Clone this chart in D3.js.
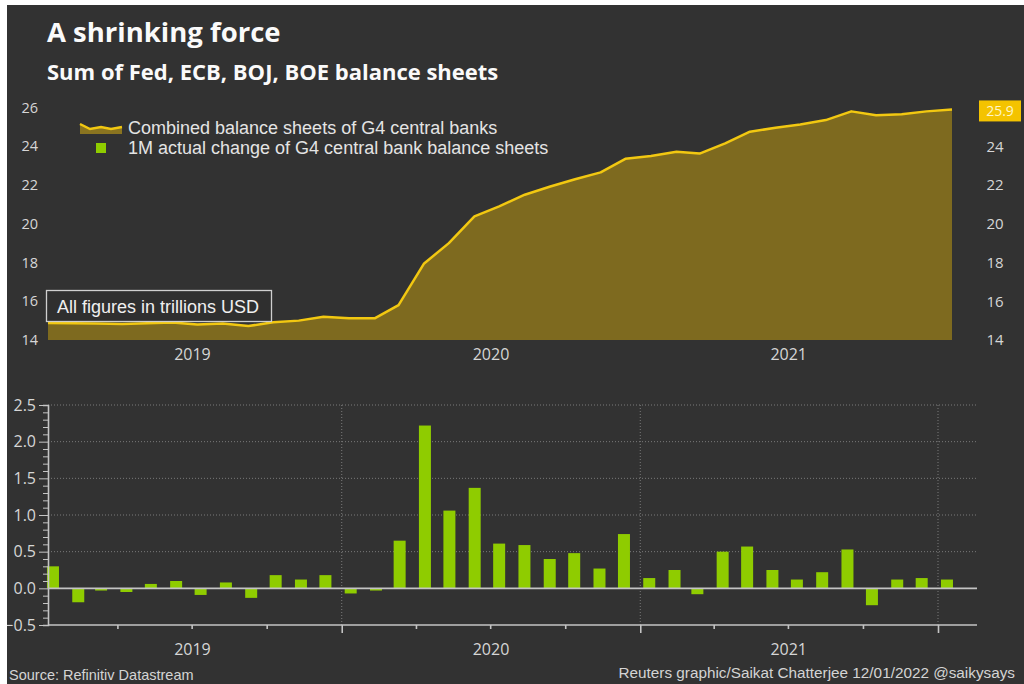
<!DOCTYPE html>
<html>
<head>
<meta charset="utf-8">
<script src="https://cdn.jsdelivr.net/npm/d3@7"></script>
<style>
  body { margin: 0; background: #fff; }
  svg { display: block; }
  .tick-label { fill: #d6d6d6; font-family: "Open Sans", sans-serif; }
  .note { fill: #e4e4e4; font-family: "Liberation Sans", Arial, sans-serif; }
</style>
</head>
<body>
<svg id="chart" width="1024" height="684"></svg>
<script>
// monthly observations, Jan 2019 .. Jan 2022
var months = d3.timeMonth.range(new Date(2019, 0, 1), new Date(2022, 1, 1));

// combined balance sheets of G4 central banks, trillions USD
var combined = [14.88, 14.87, 14.85, 14.82, 14.86, 14.9, 14.8, 14.85, 14.72, 14.92, 15.0, 15.2,
  15.12, 15.12, 15.8, 17.95, 19.0, 20.38, 20.9, 21.5, 21.92, 22.3, 22.65, 23.35,
  23.5, 23.72, 23.62, 24.15, 24.75, 24.95, 25.12, 25.35, 25.8, 25.6, 25.65, 25.8, 25.9];

// 1M actual change, trillions USD
var change = [0.3, -0.19, -0.03, -0.05, 0.06, 0.1, -0.09, 0.08, -0.13, 0.18, 0.12, 0.18,
  -0.07, -0.03, 0.65, 2.22, 1.06, 1.37, 0.61, 0.59, 0.4, 0.48, 0.27, 0.74,
  0.14, 0.25, -0.08, 0.5, 0.57, 0.25, 0.12, 0.22, 0.53, -0.23, 0.12, 0.14, 0.12];

var topTicks = [14, 16, 18, 20, 22, 24, 26];
var rightTicks = [14, 16, 18, 20, 22, 24];
var bottomTicks = [-0.5, 0, 0.5, 1.0, 1.5, 2.0, 2.5];
var years = [2019, 2020, 2021];
var lastLabel = "25.9";

var svg = d3.select("#chart");
svg.append("rect").attr("width", 1024).attr("height", 684).attr("fill", "#323232");

// ---------- top panel ----------
var xt = d3.scaleTime().domain([new Date(2019, 0, 1), new Date(2022, 0, 1)]).range([48, 952]);
var yt = d3.scaleLinear().domain([14, 26]).range([340, 107.5]);

// bottom panel scales (year labels of both panels sit on these)
var xb = d3.scaleTime().domain([new Date(2019, 0, 1), new Date(2022, 0, 1)]).range([44, 938]);
var yb = d3.scaleLinear().domain([-0.5, 2.5]).range([625, 405]);

var pts = months.map(function(m, i) { return { date: m, v: combined[i] }; });

var area = d3.area()
  .x(function(d) { return xt(d.date); })
  .y0(yt(14))
  .y1(function(d) { return yt(d.v); });

var line = d3.line()
  .x(function(d) { return xt(d.date); })
  .y(function(d) { return yt(d.v); });

svg.append("path").datum(pts).attr("d", area).attr("fill", "#7e6a1f");
svg.append("path").datum(pts).attr("d", line)
  .attr("fill", "none").attr("stroke", "#f2c811").attr("stroke-width", 2.5)
  .attr("stroke-linejoin", "round");

svg.selectAll(".ytl").data(topTicks).enter().append("text")
  .attr("class", "tick-label")
  .attr("x", 38).attr("y", function(d) { return yt(d); })
  .attr("dy", "0.35em").attr("text-anchor", "end")
  .style("font-size", "14.5px")
  .text(function(d) { return d; });

svg.selectAll(".ytr").data(rightTicks).enter().append("text")
  .attr("class", "tick-label")
  .attr("x", 995).attr("y", function(d) { return yt(d); })
  .attr("dy", "0.35em").attr("text-anchor", "middle")
  .style("font-size", "15px")
  .text(function(d) { return d; });

// last value tag
var lastV = combined[combined.length - 1];
svg.append("rect").attr("x", 979).attr("y", yt(lastV) - 9).attr("width", 42).attr("height", 21)
  .attr("fill", "#f4c300");
svg.append("text").attr("class", "tick-label")
  .attr("x", 1000).attr("y", yt(lastV) + 1.5).attr("dy", "0.35em").attr("text-anchor", "middle")
  .style("font-size", "14px").style("fill", "#fff6c8")
  .text(lastLabel);

svg.selectAll(".yrt").data(years).enter().append("text")
  .attr("class", "tick-label")
  .attr("x", function(d) { return xb(new Date(d, 6, 2)); })
  .attr("y", 360).attr("text-anchor", "middle")
  .style("font-size", "16px")
  .text(function(d) { return d; });

// units box
svg.append("rect").attr("x", 46.5).attr("y", 290.5).attr("width", 225).attr("height", 31)
  .attr("fill", "#2f2f2f").attr("stroke", "#cfcfcf").attr("stroke-width", 1.3);
svg.append("text").attr("class", "note").attr("x", 57).attr("y", 313)
  .style("font-size", "18px").style("fill", "#f0f0f0")
  .text("All figures in trillions USD");

// legend
var lg = svg.append("g");
lg.append("path")
  .attr("d", "M80,124 L90,129 L101,127 L111,129 L122,127 L122,134 L80,134 Z")
  .attr("fill", "#8a7420");
lg.append("path")
  .attr("d", "M80,124 L90,129 L101,127 L111,129 L122,127")
  .attr("fill", "none").attr("stroke", "#f2c811").attr("stroke-width", 2.5);
lg.append("rect").attr("x", 96).attr("y", 143).attr("width", 10).attr("height", 10).attr("fill", "#8fcc00");
lg.append("text").attr("class", "note").attr("x", 128).attr("y", 134)
  .style("font-size", "18px").text("Combined balance sheets of G4 central banks");
lg.append("text").attr("class", "note").attr("x", 128).attr("y", 154)
  .style("font-size", "18px").text("1M actual change of G4 central bank balance sheets");

// ---------- bottom panel ----------
var gridColor = "#7a7a7a";
svg.selectAll(".hg").data(bottomTicks.filter(function(d) { return d > 0; })).enter().append("line")
  .attr("x1", 48).attr("x2", 977)
  .attr("y1", function(d) { return yb(d); }).attr("y2", function(d) { return yb(d); })
  .attr("stroke", gridColor).attr("stroke-width", 1).attr("stroke-dasharray", "1,2");

svg.selectAll(".vg").data([2020, 2021, 2022]).enter().append("line")
  .attr("x1", function(d) { return xb(new Date(d, 0, 1)); })
  .attr("x2", function(d) { return xb(new Date(d, 0, 1)); })
  .attr("y1", 405).attr("y2", 625)
  .attr("stroke", gridColor).attr("stroke-width", 1).attr("stroke-dasharray", "1,2");

svg.selectAll(".bar").data(change).enter().append("rect")
  .attr("x", function(d, i) { return xb(d3.timeDay.offset(months[i], 11)) - 6; })
  .attr("width", 12)
  .attr("y", function(d) { return yb(Math.max(0, d)); })
  .attr("height", function(d) { return Math.abs(yb(d) - yb(0)); })
  .attr("fill", "#8fcc00");

// zero line
svg.append("line").attr("x1", 48).attr("x2", 977).attr("y1", yb(0)).attr("y2", yb(0))
  .attr("stroke", "#c4c4c4").attr("stroke-width", 1.6);

// y axis with minor ticks every 0.1
var yAxis = d3.axisLeft(yb).tickValues(d3.range(-5, 26).map(function(d) { return d / 10; }))
  .tickSize(5).tickFormat("");
var ya = svg.append("g").attr("transform", "translate(48,0)").call(yAxis);
ya.selectAll("line").attr("stroke", "#c4c4c4");
ya.selectAll("line").filter(function(d) { return Math.abs(d * 2 - Math.round(d * 2)) < 1e-6; })
  .attr("x2", -9);
ya.select(".domain").attr("stroke", "#c4c4c4").attr("stroke-width", 1.6);

svg.selectAll(".ybl").data(bottomTicks).enter().append("text")
  .attr("class", "tick-label")
  .attr("x", 36).attr("y", function(d) { return yb(d); })
  .attr("dy", "0.35em").attr("text-anchor", "end")
  .style("font-size", "16px")
  .text(d3.format(".1f"));

// x axis, quarterly ticks, longer at year starts
var xAxis = d3.axisBottom(xb).ticks(d3.timeMonth.every(3)).tickSize(4).tickFormat("");
var xa = svg.append("g").attr("transform", "translate(0," + yb(-0.5) + ")").call(xAxis);
xa.select(".domain").remove();
xa.selectAll("line").attr("stroke", "#c4c4c4").attr("stroke-width", 1.6);
xa.selectAll("line").filter(function(d) { return d.getMonth() === 0; }).attr("y2", 8);
xa.selectAll(".tick").filter(function(d) { return xb(d) < 50; }).remove();
svg.append("line").attr("x1", 48).attr("x2", 977).attr("y1", yb(-0.5)).attr("y2", yb(-0.5))
  .attr("stroke", "#c4c4c4").attr("stroke-width", 1.6);

svg.selectAll(".yrb").data(years).enter().append("text")
  .attr("class", "tick-label")
  .attr("x", function(d) { return xb(new Date(d, 6, 2)); })
  .attr("y", 655).attr("text-anchor", "middle")
  .style("font-size", "16px")
  .text(function(d) { return d; });

// ---------- titles & footer ----------
svg.append("text").attr("x", 47).attr("y", 42)
  .style("font-family", "'Open Sans', sans-serif").style("font-weight", "700")
  .style("font-size", "27.5px").style("fill", "#fafafa")
  .text("A shrinking force");
svg.append("text").attr("x", 47).attr("y", 80)
  .style("font-family", "'Open Sans', sans-serif").style("font-weight", "700")
  .style("font-size", "22px").style("fill", "#fafafa")
  .text("Sum of Fed, ECB, BOJ, BOE balance sheets");

svg.append("text").attr("class", "note").attr("x", 9).attr("y", 680)
  .style("font-size", "14.5px").style("fill", "#d4d4d4")
  .text("Source: Refinitiv Datastream");
svg.append("text").attr("class", "note").attr("x", 1015).attr("y", 678)
  .attr("text-anchor", "end")
  .style("font-size", "15.3px").style("fill", "#d4d4d4")
  .text("Reuters graphic/Saikat Chatterjee 12/01/2022 @saikysays");

// white frame on top & left
svg.append("rect").attr("x", 0).attr("y", 0).attr("width", 1024).attr("height", 5).attr("fill", "#fff");
svg.append("rect").attr("x", 0).attr("y", 0).attr("width", 7).attr("height", 684).attr("fill", "#fff");
</script>
</body>
</html>
